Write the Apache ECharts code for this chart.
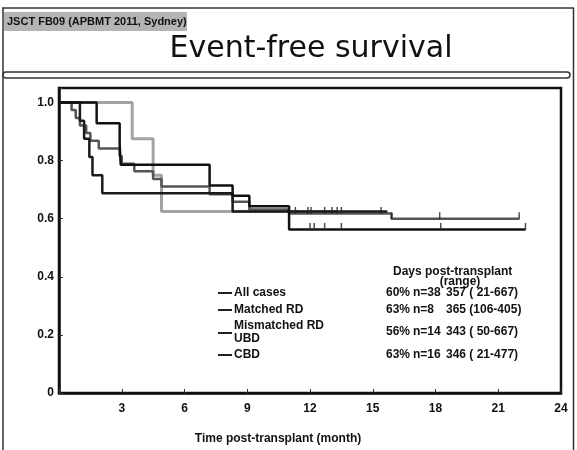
<!DOCTYPE html>
<html>
<head>
<meta charset="utf-8">
<script src="https://cdn.jsdelivr.net/npm/echarts@6/dist/echarts.min.js"></script>
<style>
  html, body { margin: 0; padding: 0; background: #fff; }
  #chart { width: 577px; height: 450px; }
</style>
</head>
<body>
<div id="chart"></div>
<script>
// axis ticks
const xTicks = [3, 6, 9, 12, 15, 18, 21, 24];
const yTicks = [0, 0.2, 0.4, 0.6, 0.8, 1.0];

// Kaplan-Meier steps (month, survival)
const allMonths = [0, 0.6, 0.8, 1.0, 1.3, 1.5, 1.9, 2.9, 3.0, 3.6, 4.5, 4.9, 7.2, 8.3, 9.1, 11.0, 15.9, 22.0];
const allSurv = [1, 0.974, 0.947, 0.921, 0.895, 0.868, 0.842, 0.816, 0.789, 0.763, 0.737, 0.711, 0.684, 0.658, 0.632, 0.618, 0.6, 0.6];
const allCensor = [11.3, 11.9, 12.05, 12.7, 13.05, 13.3, 13.5, 15.4, 15.9, 18.2, 22.0];

const matchedMonths = [0, 3.5, 4.5, 4.9, 13.3];
const matchedSurv = [1, 0.875, 0.75, 0.625, 0.625];

const mismatchMonths = [0, 1.8, 2.9, 2.95, 7.2, 8.3, 9.1, 11.0, 22.3];
const mismatchSurv = [1, 0.929, 0.857, 0.786, 0.714, 0.679, 0.643, 0.563, 0.563];
const mismatchCensor = [12.0, 12.2, 12.7, 13.5, 18.25, 22.3];

const cbdMonths = [0, 1.0, 1.2, 1.45, 1.6, 2.07, 8.3, 15.7];
const cbdSurv = [1, 0.9375, 0.875, 0.8125, 0.75, 0.6875, 0.625, 0.625];

// legend table
const groupNames = ["All cases", "Matched RD", "Mismatched RD", "CBD"];
const groupRates = ["60%", "63%", "56%", "63%"];
const groupN = ["n=38", "n=8", "n=14", "n=16"];
const groupDays = ["357 ( 21-667)", "365 (106-405)", "343 ( 50-667)", "346 ( 21-477)"];

const pairs = (xs, ys) => xs.map((x, i) => [x, ys[i]]);
const survAt = (xs, ys, t) => {
  let s = ys[0];
  for (let i = 0; i < xs.length; i++) if (xs[i] <= t) s = ys[i];
  return s;
};

const chart = echarts.init(document.getElementById("chart"));
const FONT = "Liberation Sans";
const bold = { fontFamily: FONT, fontWeight: "bold", fontSize: 12, fill: "#111" };

const kmLine = (name, xs, ys, color, width, z) => ({
  name: name,
  type: "line",
  step: "end",
  showSymbol: false,
  z: z,
  lineStyle: { color: color, width: width },
  data: pairs(xs, ys),
});
const censorMarks = (xs, ys, times) => ({
  type: "scatter",
  symbol: "rect",
  symbolSize: [1.5, 7],
  symbolOffset: [0, -3],
  z: 5,
  itemStyle: { color: "#222" },
  data: times.map((t) => [t, survAt(xs, ys, t)]),
});

// legend rows y positions
const rowY = [293, 310, 330, 355];

const graphics = [
  // slide frame
  { type: "line", shape: { x1: 3, y1: 8, x2: 3, y2: 450 }, style: { stroke: "#333", lineWidth: 1.5 } },
  { type: "line", shape: { x1: 573.5, y1: 8, x2: 573.5, y2: 450 }, style: { stroke: "#333", lineWidth: 1.5 } },
  { type: "line", shape: { x1: 2, y1: 8, x2: 574, y2: 8 }, style: { stroke: "#333", lineWidth: 1.5 } },
  { type: "rect", shape: { x: 4, y: 12, width: 183, height: 19 }, style: { fill: "#b4b4b4" } },
  { type: "text", x: 7, y: 22, style: Object.assign({}, bold, { text: "JSCT FB09 (APBMT 2011, Sydney)", verticalAlign: "middle", fontSize: 11 }) },
  {
    type: "text", x: 311, y: 49,
    style: { text: "Event-free survival", fontFamily: "DejaVu Sans", fontSize: 30, fill: "#111", align: "center", verticalAlign: "middle" },
  },
  { type: "rect", shape: { x: 3, y: 72, width: 567, height: 6, r: 3 }, style: { fill: "#fff", stroke: "#333", lineWidth: 1.5 } },
  // axis title
  { type: "text", x: 278, y: 439, style: Object.assign({ text: "Time post-transplant (month)", align: "center", verticalAlign: "middle" }, bold) },
  // table header
  { type: "text", x: 393, y: 272, style: Object.assign({ text: "Days post-transplant", verticalAlign: "middle" }, bold) },
  { type: "text", x: 460, y: 282, style: Object.assign({ text: "(range)", align: "center", verticalAlign: "middle" }, bold) },
];

groupNames.forEach((nm, i) => {
  const y = rowY[i];
  const dashY = i === 2 ? y + 3 : y;
  graphics.push({ type: "line", shape: { x1: 218, y1: dashY, x2: 232, y2: dashY }, style: { stroke: "#222", lineWidth: 2 } });
  if (i === 2) {
    graphics.push({ type: "text", x: 234, y: y - 4, style: Object.assign({ text: nm, verticalAlign: "middle" }, bold) });
    graphics.push({ type: "text", x: 234, y: y + 9, style: Object.assign({ text: "UBD", verticalAlign: "middle" }, bold) });
  } else {
    graphics.push({ type: "text", x: 234, y: y, style: Object.assign({ text: nm, verticalAlign: "middle" }, bold) });
  }
  const ty = i === 2 ? y + 2 : y;
  graphics.push({ type: "text", x: 386, y: ty, style: Object.assign({ text: groupRates[i], verticalAlign: "middle" }, bold) });
  graphics.push({ type: "text", x: 413, y: ty, style: Object.assign({ text: groupN[i], verticalAlign: "middle" }, bold) });
  graphics.push({ type: "text", x: 446, y: ty, style: Object.assign({ text: groupDays[i], verticalAlign: "middle" }, bold) });
});

chart.setOption({
  backgroundColor: "#fff",
  animation: false,
  grid: {
    left: 59, right: 16, top: 88, bottom: 57,
    show: true, borderColor: "#111", borderWidth: 2.5,
  },
  xAxis: {
    type: "value",
    min: 0, max: 24, interval: 3,
    axisLine: { show: true, lineStyle: { color: "#111", width: 2.5 } },
    axisTick: { show: true, inside: true, length: 4, lineStyle: { color: "#333" } },
    splitLine: { show: false },
    axisLabel: {
      margin: 10, color: "#111", fontFamily: FONT, fontWeight: "bold", fontSize: 12,
      formatter: (v) => (xTicks.includes(v) ? String(v) : ""),
    },
  },
  yAxis: {
    type: "value",
    min: 0, max: 1.05, interval: 0.2,
    axisLine: { show: true, lineStyle: { color: "#111", width: 2.5 } },
    axisTick: { show: true, inside: true, length: 4, lineStyle: { color: "#333" } },
    splitLine: { show: false },
    axisLabel: {
      margin: 5, color: "#111", fontFamily: FONT, fontWeight: "bold", fontSize: 12,
      formatter: (v) => {
        const t = yTicks.find((k) => Math.abs(k - v) < 1e-6);
        if (t === undefined) return "";
        return t === 0 ? "0" : t.toFixed(1);
      },
    },
  },
  series: [
    kmLine("Matched RD", matchedMonths, matchedSurv, "#a3a3a3", 3, 2),
    kmLine("All cases", allMonths, allSurv, "#555", 2.5, 3),
    kmLine("CBD", cbdMonths, cbdSurv, "#1a1a1a", 2.5, 4),
    kmLine("Mismatched RD UBD", mismatchMonths, mismatchSurv, "#111", 2.5, 4),
    censorMarks(allMonths, allSurv, allCensor),
    censorMarks(mismatchMonths, mismatchSurv, mismatchCensor),
  ],
  graphic: graphics,
});
</script>
</body>
</html>
